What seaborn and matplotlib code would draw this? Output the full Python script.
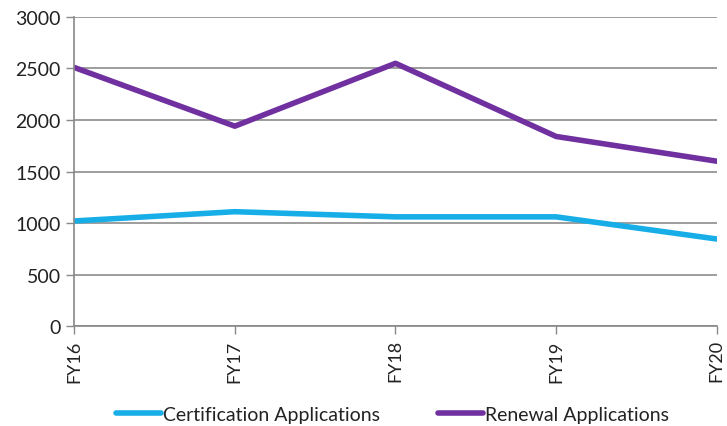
import matplotlib
matplotlib.use("Agg")
import matplotlib.pyplot as plt
import seaborn as sns
import pandas as pd

years = ["FY16", "FY17", "FY18", "FY19", "FY20"]
certification = [1020, 1110, 1060, 1060, 845]
renewal = [2510, 1940, 2550, 1840, 1600]

df = pd.DataFrame({
    "Year": years * 2,
    "Value": certification + renewal,
    "Series": ["Certification Applications"] * len(years) + ["Renewal Applications"] * len(years),
})

sns.set_style("white")
plt.rcParams["font.family"] = ["Lato", "DejaVu Sans"]

fig = plt.figure(figsize=(7.27, 4.27), dpi=100)
ax = fig.add_axes([0.102, 0.234, 0.884, 0.724])

palette = {"Certification Applications": "#17AEE8", "Renewal Applications": "#7030A0"}
df["x"] = df["Year"].map({y: i for i, y in enumerate(years)})
sns.lineplot(data=df, x="x", y="Value", hue="Series", palette=palette, linewidth=4, ax=ax, sort=False)

ax.set_xlim(0, len(years) - 1)
ax.set_ylim(0, 3000)
ax.set_yticks(range(0, 3001, 500))
ax.set_xticks(range(len(years)))
ax.set_xticklabels(years, rotation=90, fontsize=13, color="#222222")
ax.tick_params(axis="y", labelsize=14, length=6, width=1, direction="out", left=True)
ax.tick_params(axis="x", length=6, width=1, direction="out", bottom=True)
for t in ax.get_yticklabels() + ax.get_xticklabels():
    t.set_color("#222222")
ax.tick_params(axis="both", color="#888888")
ax.yaxis.grid(True, color="#8c8c8c", linewidth=1.2)
ax.set_axisbelow(True)
for s in ["top", "right"]:
    ax.spines[s].set_visible(False)
for s in ["left", "bottom"]:
    ax.spines[s].set_color("#888888")
    ax.spines[s].set_linewidth(1.2)
ax.set_xlabel("")
ax.set_ylabel("")

handles, labels = ax.get_legend_handles_labels()
leg = ax.legend(handles, labels, loc="center", bbox_to_anchor=(0.495, -0.285), ncol=2, frameon=False,
                fontsize=14, handlelength=2.3, handletextpad=0.1, columnspacing=3.0)
for t in leg.get_texts():
    t.set_color("#222222")

fig.savefig("out.png", dpi=100)
